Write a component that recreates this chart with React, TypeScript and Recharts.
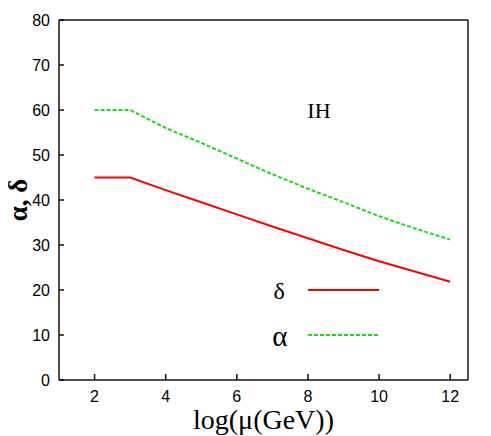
import React from 'react';
import { LineChart, Line, XAxis, YAxis, Label, ReferenceDot } from 'recharts';

const xVals = [2, 3, 4, 5, 6, 7, 8, 9, 10, 11, 12];
const deltaVals = [45, 45, 42.2, 39.5, 36.8, 34.1, 31.5, 28.9, 26.4, 24.1, 21.85];
const alphaVals = [60, 60, 56.0, 52.7, 49.2, 45.7, 42.5, 39.5, 36.4, 33.7, 31.2];

const xTicks = [2, 4, 6, 8, 10, 12];
const yTicks = [0, 10, 20, 30, 40, 50, 60, 70, 80];

const legendDeltaLine = [{ x: 8, y: 20 }, { x: 10, y: 20 }];
const legendAlphaLine = [{ x: 8, y: 10 }, { x: 10, y: 10 }];

const annotations = [
  { x: 8.31, y: 59.9, text: 'IH', size: 22 },
  { x: 7.19, y: 19.9, text: 'δ', size: 24 },
  { x: 7.21, y: 9.9, text: 'α', size: 29 },
];

const deltaData = xVals.map((x, i) => ({ x, y: deltaVals[i] }));
const alphaData = xVals.map((x, i) => ({ x, y: alphaVals[i] }));

const RED = '#ff0000';
const GREEN = '#11e011';
const AXIS = '#111111';
const tickFont = { fontFamily: 'Liberation Sans, Arial, sans-serif', fontSize: 16, fill: '#000' };

export default function App() {
  return (
    <LineChart
      width={483}
      height={428}
      margin={{ top: 10, right: 18, left: 6, bottom: 26 }}
    >
      <XAxis
        dataKey="x"
        type="number"
        domain={[1, 12.5]}
        ticks={xTicks}
        allowDataOverflow
        height={30}
        tickSize={-6}
        tickMargin={17}
        tick={tickFont}
        stroke={AXIS}
        strokeWidth={1.5}
      >
        <Label
          value="log(μ(GeV))"
          position="bottom"
          offset={-1}
          style={{ fontFamily: 'Liberation Serif, Times New Roman, serif', fontSize: 28, fill: '#000' }}
        />
      </XAxis>
      <XAxis
        xAxisId="top"
        orientation="top"
        dataKey="x"
        type="number"
        domain={[1, 12.5]}
        ticks={xTicks}
        allowDataOverflow
        height={2}
        tickSize={-6}
        tick={false}
        stroke={AXIS}
        strokeWidth={1.5}
      />
      <YAxis
        type="number"
        domain={[0, 80]}
        ticks={yTicks}
        width={45}
        tickSize={-5}
        tickMargin={14}
        tick={tickFont}
        stroke={AXIS}
        strokeWidth={1.5}
      >
        <Label
          value="α, δ"
          angle={-90}
          position="insideLeft"
          offset={3}
          style={{ fontFamily: 'Liberation Serif, Times New Roman, serif', fontSize: 27, fontWeight: 'bold', fill: '#000', textAnchor: 'middle' }}
        />
      </YAxis>
      <YAxis
        yAxisId="right"
        orientation="right"
        type="number"
        domain={[0, 80]}
        ticks={yTicks}
        width={5}
        tickSize={-5}
        tick={false}
        stroke={AXIS}
        strokeWidth={1.5}
      />
      <Line data={deltaData} dataKey="y" type="linear" stroke={RED} strokeWidth={2} dot={false} isAnimationActive={false} />
      <Line data={alphaData} dataKey="y" type="linear" stroke={GREEN} strokeWidth={2} strokeDasharray="4 2" dot={false} isAnimationActive={false} />
      <Line data={legendDeltaLine} dataKey="y" type="linear" stroke={RED} strokeWidth={2} dot={false} isAnimationActive={false} />
      <Line data={legendAlphaLine} dataKey="y" type="linear" stroke={GREEN} strokeWidth={2} strokeDasharray="4 2" dot={false} isAnimationActive={false} />
      {annotations.map((a) => (
        <ReferenceDot
          key={a.text}
          x={a.x}
          y={a.y}
          r={0}
          fill="none"
          stroke="none"
          label={{
            value: a.text,
            position: 'center',
            style: { fontFamily: 'Liberation Serif, Times New Roman, serif', fontSize: a.size, fill: '#000' },
          }}
        />
      ))}
    </LineChart>
  );
}
